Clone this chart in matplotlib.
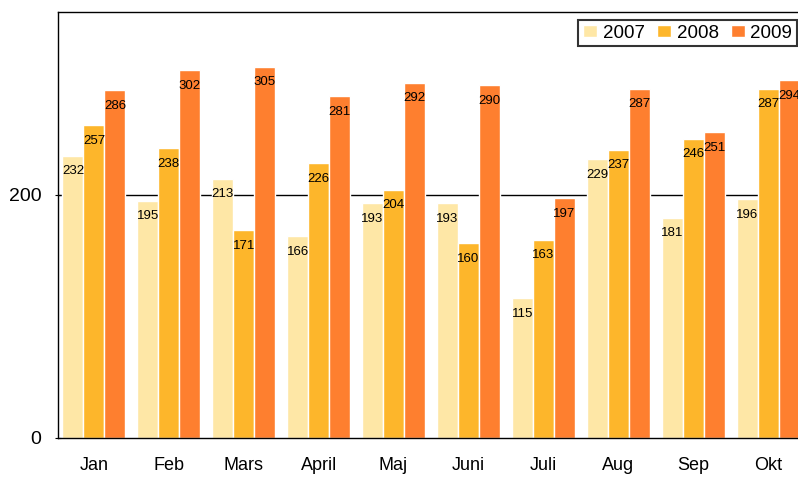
import numpy as np
import matplotlib
matplotlib.use('Agg')
import matplotlib.pyplot as plt

# --- Data ---
months = ['Jan', 'Feb', 'Mars', 'April', 'Maj', 'Juni', 'Juli', 'Aug', 'Sep', 'Okt']
years = ['2007', '2008', '2009']
v2007 = [232, 195, 213, 166, 193, 193, 115, 229, 181, 196]
v2008 = [257, 238, 171, 226, 204, 160, 163, 237, 246, 287]
v2009 = [286, 302, 305, 281, 292, 290, 197, 287, 251, 294]

colors = ['#FEE7A6', '#FDB62B', '#FE7F2F']

plt.rcParams['font.family'] = ['Liberation Sans', 'DejaVu Sans']

fig = plt.figure(figsize=(7.98, 4.78), dpi=100)
ax = fig.add_axes([58 / 798, 40 / 478, 740 / 798, 426 / 478])

x = np.arange(len(months))
w = 0.28
for i, (vals, c, lab) in enumerate(zip([v2007, v2008, v2009], colors, years)):
    bars = ax.bar(x + (i - 1) * w, vals, width=w, color=c, edgecolor='white',
                  linewidth=1, label=lab, zorder=2)
    for b, v in zip(bars, vals):
        ax.annotate(str(v), (b.get_x() + b.get_width() / 2, v),
                    xytext=(0, -7), textcoords='offset points',
                    ha='center', va='top', fontsize=9.5, color='black', zorder=3)

ax.set_xlim(-0.48, 9.40)
ax.set_ylim(0, 350)
ax.set_yticks([0, 200])
ax.set_xticks(x)
ax.set_xticklabels(months, fontsize=13)
ax.tick_params(axis='y', labelsize=14, length=4, direction='inout', pad=10)
ax.tick_params(axis='x', length=0, pad=14)
ax.axhline(200, color='black', linewidth=1, zorder=1)

for s in ['left', 'bottom', 'top']:
    ax.spines[s].set_color('black')
    ax.spines[s].set_linewidth(1)
ax.spines['right'].set_visible(False)

leg = ax.legend(loc='upper right', ncol=3, fontsize=13.5, frameon=True,
                fancybox=False, edgecolor='black', handlelength=0.75,
                handleheight=0.6, columnspacing=0.65, handletextpad=0.3,
                borderpad=0.25, borderaxespad=0,
                bbox_to_anchor=(0.9986, 0.981))
leg.get_frame().set_linewidth(1.5)

fig.savefig('out.png', dpi=100)
